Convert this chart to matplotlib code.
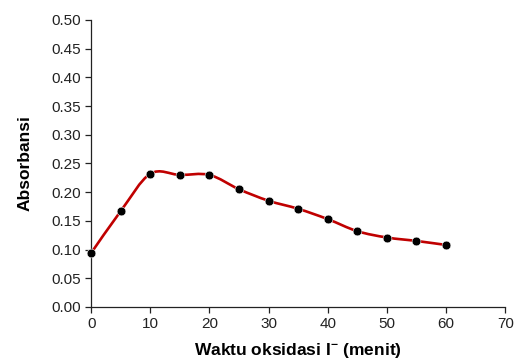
import matplotlib
matplotlib.use('Agg')
import matplotlib.pyplot as plt
import numpy as np
from matplotlib.path import Path
from matplotlib.patches import PathPatch

plt.rcParams['font.family'] = ['Liberation Sans', 'DejaVu Sans']
plt.rcParams['mathtext.fontset'] = 'custom'
plt.rcParams['mathtext.bf'] = 'Liberation Sans:bold'

waktu = [0, 5, 10, 15, 20, 25, 30, 35, 40, 45, 50, 55, 60]
absorbansi = [0.094, 0.167, 0.232, 0.230, 0.230, 0.205, 0.185, 0.171, 0.153, 0.132, 0.121, 0.115, 0.108]

fig = plt.figure(figsize=(5.15, 3.62), dpi=100)
ax = fig.add_axes([0.177, 0.152, 0.804, 0.793])

# garis halus gaya Excel (kurva Bezier dari titik data)
x = np.array(waktu, dtype=float)
y = np.array(absorbansi, dtype=float)
verts = [(x[0], y[0])]
codes = [Path.MOVETO]
n = len(x)
for i in range(n - 1):
    x0, y0 = (x[i - 1], y[i - 1]) if i > 0 else (x[i], y[i])
    x3, y3 = (x[i + 2], y[i + 2]) if i + 2 < n else (x[i + 1], y[i + 1])
    c1 = (x[i] + (x[i + 1] - x0) / 6, y[i] + (y[i + 1] - y0) / 6)
    c2 = (x[i + 1] - (x3 - x[i]) / 6, y[i + 1] - (y3 - y[i]) / 6)
    verts += [c1, c2, (x[i + 1], y[i + 1])]
    codes += [Path.CURVE4] * 3
ax.add_patch(PathPatch(Path(verts, codes), facecolor='none', edgecolor='#C00000', lw=1.9, zorder=2))

ax.plot(waktu, absorbansi, 'o', color='black', ms=6.3, mec='white', mew=0.4, zorder=3, clip_on=False)

ax.set_xlim(0, 70)
ax.set_ylim(0, 0.5)
ax.set_xticks(np.arange(0, 71, 10))
ax.set_yticks(np.arange(0, 0.51, 0.05))
ax.set_yticklabels(['%.2f' % v for v in np.arange(0, 0.51, 0.05)])

for s in ['top', 'right']:
    ax.spines[s].set_visible(False)
for s in ['left', 'bottom']:
    ax.spines[s].set_color('#222222')
    ax.spines[s].set_linewidth(0.9)
ax.tick_params(direction='out', length=4, width=0.9, color='#222222', labelsize=11, labelcolor='#222222')

ax.set_xlabel(r'Waktu oksidasi I$^{\mathbf{-}}$ (menit)', fontsize=12.5, fontweight='bold', labelpad=7)
ax.set_ylabel('Absorbansi', fontsize=12.5, fontweight='bold', labelpad=13)

plt.savefig('out.png', dpi=100)
